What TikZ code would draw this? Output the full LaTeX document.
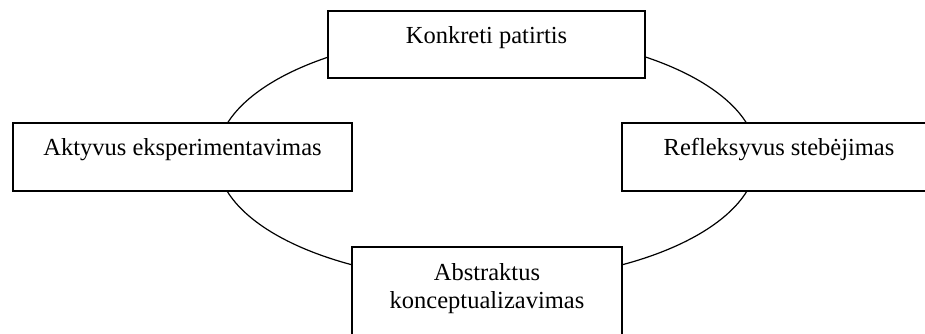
\documentclass[tikz,border=0pt]{standalone}
\usepackage{fontspec}
\setmainfont{Liberation Serif}
\begin{document}
\begin{tikzpicture}[x=1pt,y=-1pt,
	stage/.style={draw=black,line width=1.5pt,fill=white,inner sep=0pt,
		font=\fontsize{24.5}{27.6}\selectfont,text height=32pt,text depth=35pt},
	cycleline/.style={black,line width=1.2pt}]
	\useasboundingbox (0,0) rectangle (925,333);
	% Cycle
	\draw [cycleline] (487,157.4) ellipse [x radius=270pt, y radius=124pt];
	% Stages
	\node [stage,minimum width=317pt] (konkreti) at (486.5,44.5) {Konkreti patirtis};
	\node [stage,minimum width=314pt,text depth=36pt] (refleksyvus) at (779,157) {Refleksyvus stebėjimas};
	\node [stage,minimum width=270pt,align=center,text height=61pt,text depth=39pt] (abstraktus) at (487,297) {Abstraktus\\konceptualizavimas};
	\node [stage,minimum width=339pt,text depth=36pt] (aktyvus) at (182.5,157) {Aktyvus eksperimentavimas};
\end{tikzpicture}
\end{document}
